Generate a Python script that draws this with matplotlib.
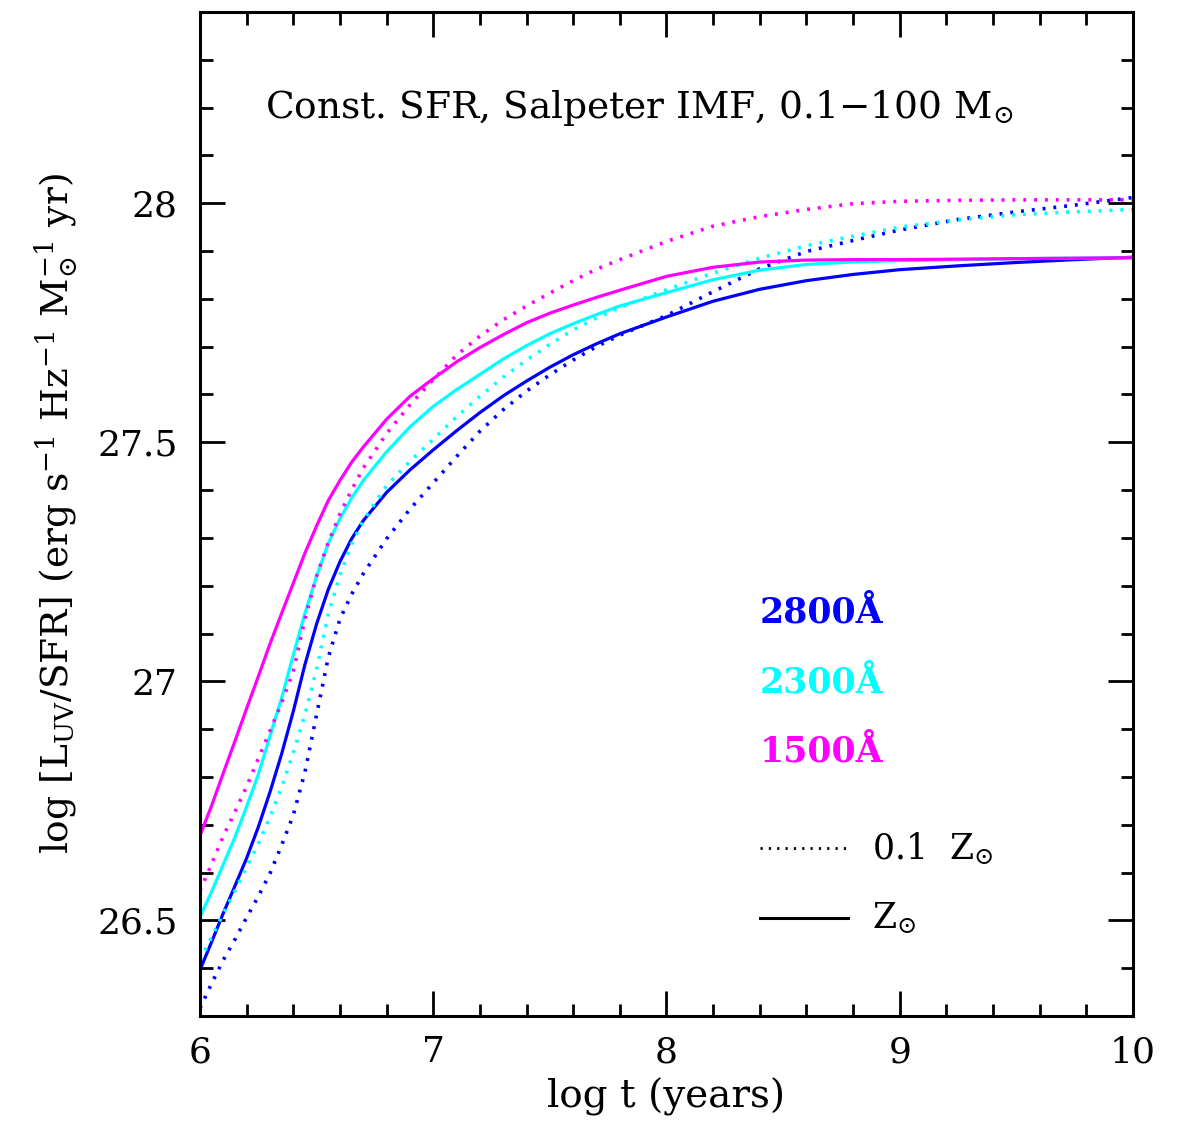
import matplotlib
matplotlib.use("Agg")
import matplotlib.pyplot as plt
from matplotlib.ticker import MultipleLocator

# log t grid (years)
log_t = [6.0, 6.05, 6.1, 6.15, 6.2, 6.25, 6.3, 6.35, 6.4, 6.45, 6.5, 6.55, 6.6, 6.65,
         6.7, 6.8, 6.9, 7.0, 7.1, 7.2, 7.3, 7.4, 7.5, 7.6, 7.7, 7.8, 8.0, 8.2, 8.4,
         8.6, 8.8, 9.0, 9.25, 9.5, 9.75, 10.0]

# solar metallicity (solid)
uv1500_solar = [26.677, 26.74, 26.808, 26.875, 26.943, 27.01, 27.078, 27.142, 27.205, 27.268,
                27.325, 27.378, 27.42, 27.458, 27.49, 27.548, 27.596, 27.633, 27.668, 27.698,
                27.725, 27.75, 27.77, 27.787, 27.803, 27.818, 27.847, 27.866, 27.877,
                27.881, 27.882, 27.882, 27.883, 27.884, 27.885, 27.886]
uv2300_solar = [26.507, 26.56, 26.617, 26.674, 26.738, 26.805, 26.885, 26.965, 27.055, 27.142,
                27.22, 27.288, 27.34, 27.383, 27.42, 27.48, 27.532, 27.575, 27.61, 27.642,
                27.674, 27.702, 27.727, 27.748, 27.767, 27.785, 27.813, 27.84, 27.86,
                27.872, 27.877, 27.88, 27.882, 27.884, 27.885, 27.886]
uv2800_solar = [26.396, 26.455, 26.515, 26.572, 26.63, 26.695, 26.768, 26.848, 26.937, 27.035,
                27.12, 27.192, 27.25, 27.298, 27.336, 27.395, 27.442, 27.484, 27.524, 27.562,
                27.597, 27.628, 27.657, 27.683, 27.706, 27.727, 27.762, 27.795, 27.82,
                27.838, 27.851, 27.861, 27.869, 27.876, 27.882, 27.887]

# 0.1 solar metallicity (dotted)
uv1500_low = [26.562, 26.618, 26.676, 26.727, 26.78, 26.838, 26.896, 26.955, 27.02, 27.13,
              27.22, 27.29, 27.35, 27.40, 27.446, 27.518, 27.578, 27.631, 27.682, 27.722,
              27.756, 27.785, 27.812, 27.838, 27.862, 27.882, 27.92, 27.952, 27.972,
              27.987, 27.999, 28.004, 28.006, 28.007, 28.007, 28.007]
uv2300_low = [26.417, 26.465, 26.514, 26.562, 26.611, 26.66, 26.716, 26.778, 26.85, 26.93,
              27.025, 27.14, 27.222, 27.287, 27.336, 27.409, 27.46, 27.506, 27.553, 27.596,
              27.636, 27.672, 27.705, 27.735, 27.76, 27.782, 27.819, 27.854, 27.885,
              27.911, 27.931, 27.95, 27.965, 27.976, 27.982, 27.987]
uv2800_low = [26.316, 26.368, 26.417, 26.46, 26.506, 26.55, 26.598, 26.657, 26.72, 26.81,
              26.93, 27.05, 27.13, 27.182, 27.225, 27.298, 27.36, 27.415, 27.47, 27.523,
              27.568, 27.607, 27.641, 27.672, 27.70, 27.724, 27.765, 27.815, 27.863,
              27.899, 27.922, 27.944, 27.966, 27.982, 27.996, 28.012]

wavelength_labels = ["2800Å", "2300Å", "1500Å"]
colors = ["#0000ff", "#00ffff", "#ff00ff"]

plt.rcParams['font.family'] = ['DejaVu Serif', 'DejaVu Sans']
plt.rcParams['mathtext.fontset'] = 'dejavuserif'

fig = plt.figure(figsize=(11.86, 11.29), dpi=100)
ax = fig.add_axes([0.1686, 0.1001, 0.7867, 0.8893])

dot_style = (0, (0.8, 2.2))
solar = [uv2800_solar, uv2300_solar, uv1500_solar]
low = [uv2800_low, uv2300_low, uv1500_low]
for c, ys, yl in zip(colors, solar, low):
    ax.plot(log_t, yl, color=c, lw=2.6, linestyle=dot_style)
    ax.plot(log_t, ys, color=c, lw=2.3, solid_capstyle='butt', solid_joinstyle='round')

ax.set_xlim(6, 10)
ax.set_ylim(26.3, 28.4)
ax.xaxis.set_minor_locator(MultipleLocator(0.2))
ax.yaxis.set_minor_locator(MultipleLocator(0.1))
ax.set_xticks([6, 7, 8, 9, 10])
ax.set_xticklabels(["6", "7", "8", "9", "10"])
ax.set_yticks([26.5, 27, 27.5, 28])
ax.set_yticklabels(["26.5", "27", "27.5", "28"])
ax.tick_params(which='both', direction='in', top=True, right=True, width=2)
ax.tick_params(which='major', length=18, labelsize=26)
ax.tick_params(axis='x', which='major', pad=14)
ax.tick_params(axis='y', which='major', pad=16)
ax.tick_params(which='minor', length=9)
for s in ax.spines.values():
    s.set_linewidth(2.2)

ax.set_xlabel("log t (years)", fontsize=28, labelpad=6)
ax.set_ylabel(r"log [L$_{\mathrm{UV}}$/SFR] (erg s$^{-1}$ Hz$^{-1}$ M$_{\odot}^{-1}$ yr)",
              fontsize=27, labelpad=12)

ax.text(0.07, 0.904, r"Const. SFR, Salpeter IMF, 0.1$-$100 M$_{\odot}$",
        transform=ax.transAxes, fontsize=27, ha='left', va='center')

for lab, c, yy in zip(wavelength_labels, colors, [0.402, 0.332, 0.263]):
    ax.text(0.600, yy, lab, transform=ax.transAxes, color=c, fontsize=25,
            fontweight='bold', ha='left', va='center')

ax.plot([0.600, 0.695], [0.167, 0.167], transform=ax.transAxes, color='black',
        lw=2.0, linestyle=(0, (0.8, 2.2)))
ax.plot([0.600, 0.695], [0.0976, 0.0976], transform=ax.transAxes, color='black', lw=2.2)
ax.text(0.720, 0.167, r"0.1  Z$_{\odot}$", transform=ax.transAxes, fontsize=25,
        ha='left', va='center')
ax.text(0.720, 0.0976, r"Z$_{\odot}$", transform=ax.transAxes, fontsize=25,
        ha='left', va='center')

fig.savefig("out.png", dpi=100)
